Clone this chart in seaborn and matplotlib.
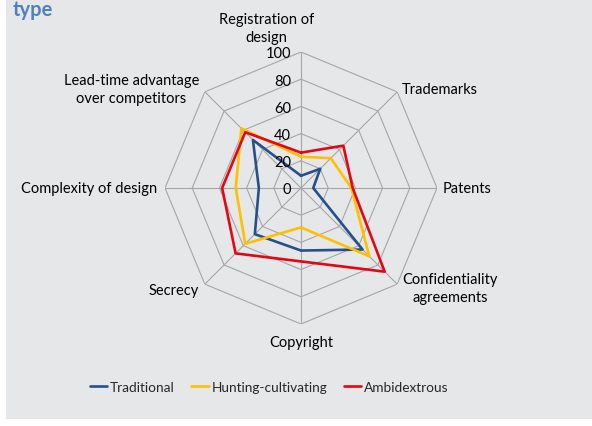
import matplotlib
matplotlib.use("Agg")
import matplotlib.pyplot as plt
import matplotlib.patches as mpatches
import numpy as np
import pandas as pd
import seaborn as sns

# categories clockwise from the top
categories = ['Registration of\ndesign', 'Trademarks', 'Patents',
              'Confidentiality\nagreements', 'Copyright', 'Secrecy',
              'Complexity of design', 'Lead-time advantage\nover competitors']
series_names = ['Traditional', 'Hunting-cultivating', 'Ambidextrous']
traditional = [9, 20, 9, 64, 46, 48, 31, 50]
hunting = [23, 31, 37, 71, 29, 58, 48, 62]
ambidextrous = [26, 44, 38, 87, 54, 68, 58, 58]
r_ticks = [0, 20, 40, 60, 80, 100]

colors = {'Traditional': '#25508C', 'Hunting-cultivating': '#FFC000', 'Ambidextrous': '#E30613'}

sns.set_style("white")
plt.rcParams['font.family'] = ['Lato', 'DejaVu Sans']

n = len(categories)
angles = [2 * np.pi * i / n for i in range(n)]

rows = []
for name, vals in zip(series_names, [traditional, hunting, ambidextrous]):
    for a, v in zip(angles + [2 * np.pi], vals + [vals[0]]):
        rows.append({'angle': a, 'value': v, 'series': name})
df = pd.DataFrame(rows)

fig = plt.figure(figsize=(5.92, 4.27), dpi=100, facecolor='white')
# grey chart area (white strip left and bottom)
fig.patches.append(mpatches.Rectangle((6 / 592, 7 / 427), 1, 1, transform=fig.transFigure,
                                      facecolor='#E6E7E9', edgecolor='none', zorder=-5))

ax = fig.add_axes([0.2787, 0.2389, 0.4595, 0.637], projection='polar')
ax.set_theta_zero_location('N')
ax.set_theta_direction(-1)
ax.patch.set_visible(False)
ax.spines['polar'].set_visible(False)
ax.grid(False)
ax.set_xticks([])
ax.set_yticks([])
ax.set_ylim(0, 100)

# octagon grid
grid_angles = angles + [angles[0]]
for r in r_ticks[1:]:
    ax.plot(grid_angles, [r] * len(grid_angles), color='#A6A6A6', lw=0.8, zorder=1)
for a in angles:
    ax.plot([a, a], [0, 100], color='#A6A6A6', lw=0.8, zorder=1)

sns.lineplot(data=df, x='angle', y='value', hue='series', palette=colors, sort=False,
             estimator=None, linewidth=1.9, ax=ax, zorder=3)
handles, labels = ax.get_legend_handles_labels()
ax.get_legend().remove()
ax.set_xlabel('')
ax.set_ylabel('')

# radial tick labels
for r in r_ticks:
    ax.annotate(str(r), xy=(0, r), xytext=(-7, -1), textcoords='offset points',
                ha='right', va='center', fontsize=10.5, color='#000000')

# category labels
label_offsets = [(-25, 6), (3, 2), (4, 0), (4, -3), (0, -8), (-4, -4), (-6, 0), (-4, 2)]
label_align = [('center', 'bottom'), ('left', 'center'), ('left', 'center'), ('left', 'center'),
               ('center', 'top'), ('right', 'center'), ('right', 'center'), ('right', 'center')]
for a, cat, off, (ha, va) in zip(angles, categories, label_offsets, label_align):
    ax.annotate(cat, xy=(a, 100), xytext=off, textcoords='offset points', ha=ha, va=va,
                multialignment='center', fontsize=10.5, color='#000000', linespacing=1.35)

fig.text(13 / 592, 1 - 16 / 427, 'type', color='#4F81BD', fontsize=14.5, fontweight='bold',
         va='baseline', ha='left')

fig.legend(handles, labels, loc='center', bbox_to_anchor=(269 / 592, 39 / 427), ncol=3,
           frameon=False, fontsize=9.8, handlelength=1.3, handletextpad=0.2,
           columnspacing=1.2)

fig.savefig('out.png', dpi=100, facecolor='white')
